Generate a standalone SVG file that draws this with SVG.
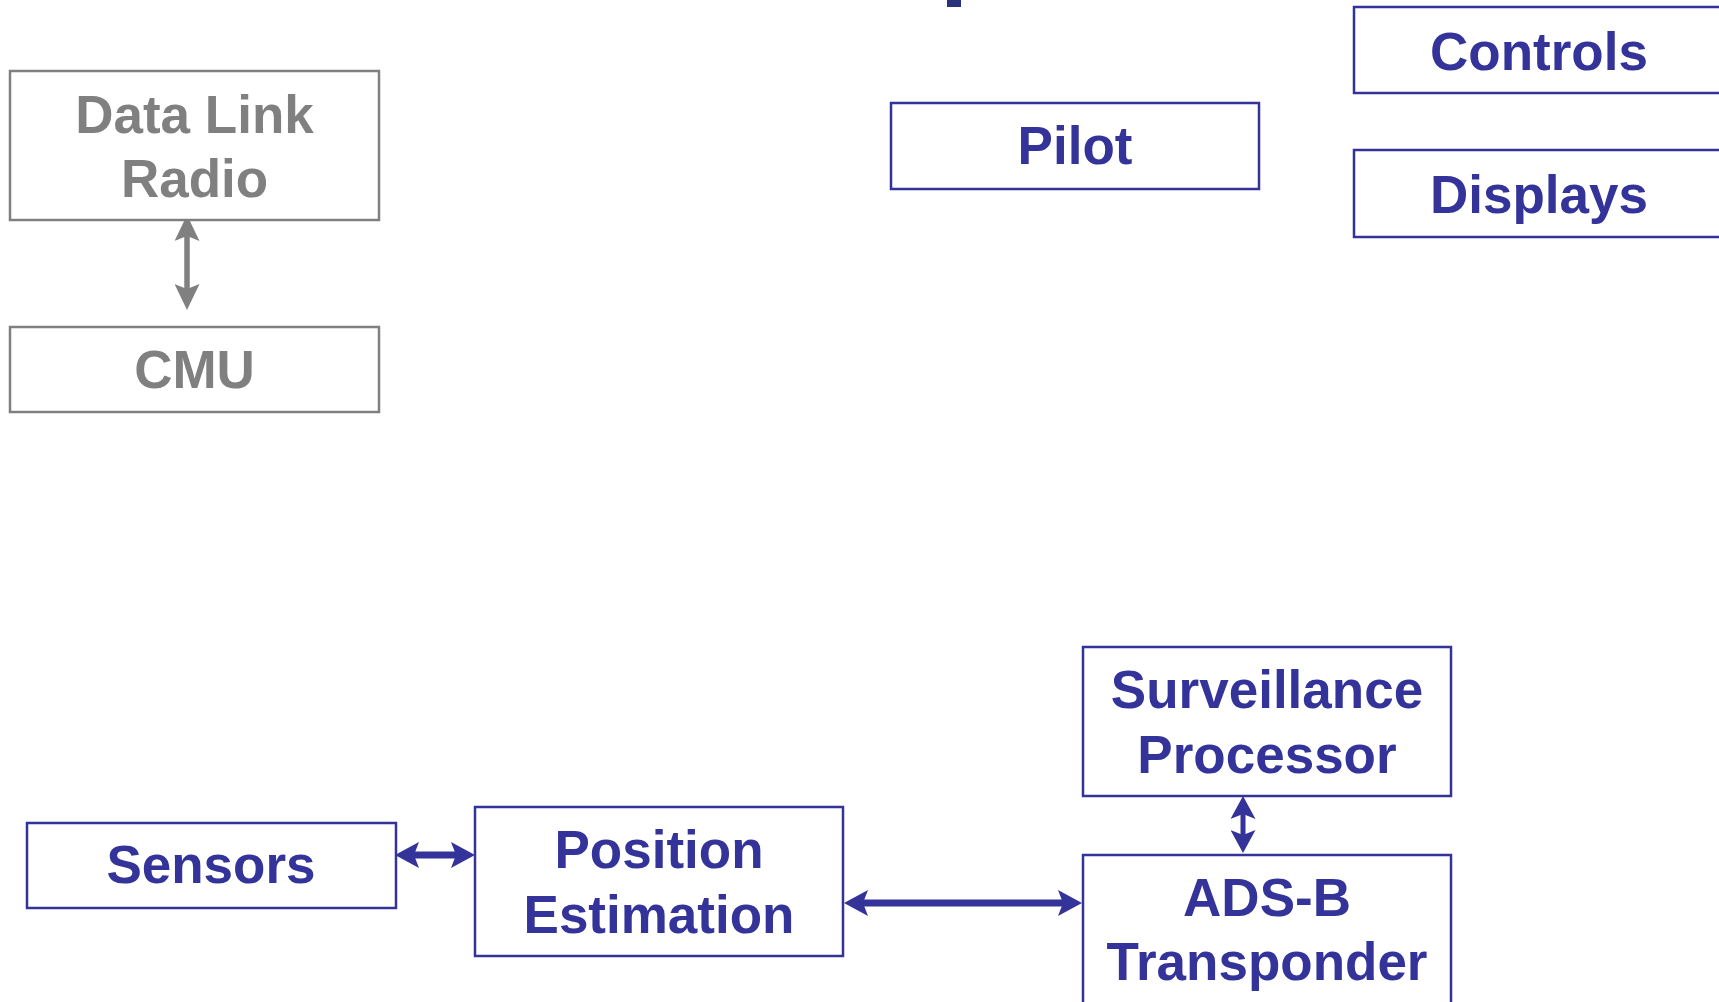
<svg xmlns="http://www.w3.org/2000/svg" width="1719" height="1002" viewBox="0 0 1719 1002">
<style>
  .box { fill: #ffffff; stroke: #333399; stroke-width: 2.5; }
  .gbox { fill: #ffffff; stroke: #808080; stroke-width: 2.5; }
  .t { font-family: "Liberation Sans", Arial, sans-serif; font-weight: bold; font-size: 53px; fill: #333399; text-anchor: middle; }
  .gt { font-family: "Liberation Sans", Arial, sans-serif; font-weight: bold; font-size: 53px; fill: #808080; text-anchor: middle; }
  .conn { stroke: #333399; fill: none; }
  .gconn { stroke: #808080; fill: none; }
</style>
<defs>
  <marker id="ah" markerUnits="userSpaceOnUse" viewBox="0 0 24 26" markerWidth="24" markerHeight="26" refX="14" refY="13" orient="auto-start-reverse">
    <path d="M0,0 L24,13 L0,26 L5,13 Z" fill="#333399"/>
  </marker>
  <marker id="ahs" markerUnits="userSpaceOnUse" viewBox="0 0 23 25" markerWidth="23" markerHeight="25" refX="13" refY="12.5" orient="auto-start-reverse">
    <path d="M0,0 L23,12.5 L0,25 L5,12.5 Z" fill="#333399"/>
  </marker>
  <marker id="ahg" markerUnits="userSpaceOnUse" viewBox="0 0 26 25" markerWidth="26" markerHeight="25" refX="16" refY="12.5" orient="auto-start-reverse">
    <path d="M0,0 L26,12.5 L0,25 L5,12.5 Z" fill="#808080"/>
  </marker>
</defs>
<rect width="1719" height="1002" fill="#ffffff"/>
<rect x="947" y="0" width="14" height="7" fill="#28327a"/>

<g id="connectors">
  <line class="gconn" x1="187" y1="225" x2="187" y2="300" stroke-width="5.5" marker-start="url(#ahg)" marker-end="url(#ahg)"/>
  <line class="conn" x1="405" y1="855" x2="465" y2="855" stroke-width="7" marker-start="url(#ah)" marker-end="url(#ah)"/>
  <line class="conn" x1="854" y1="903" x2="1072" y2="903" stroke-width="7" marker-start="url(#ah)" marker-end="url(#ah)"/>
  <line class="conn" x1="1243" y1="806" x2="1243" y2="843" stroke-width="5" marker-start="url(#ahs)" marker-end="url(#ahs)"/>
</g>

<g id="datalinkradio">
  <rect class="gbox" x="10" y="71" width="369" height="149"/>
  <text class="gt" x="194.5" y="133">Data Link</text>
  <text class="gt" x="194.5" y="197">Radio</text>
</g>
<g id="cmu">
  <rect class="gbox" x="10" y="327" width="369" height="85"/>
  <text class="gt" x="194.5" y="388">CMU</text>
</g>
<g id="pilot">
  <rect class="box" x="891" y="103" width="368" height="86"/>
  <text class="t" x="1075" y="164">Pilot</text>
</g>
<g id="controls">
  <rect class="box" x="1354" y="7" width="380" height="86"/>
  <text class="t" x="1539" y="70">Controls</text>
</g>
<g id="displays">
  <rect class="box" x="1354" y="150" width="380" height="87"/>
  <text class="t" x="1539" y="213">Displays</text>
</g>
<g id="sensors">
  <rect class="box" x="27" y="823" width="369" height="85"/>
  <text class="t" x="211" y="883">Sensors</text>
</g>
<g id="positionestimation">
  <rect class="box" x="475" y="807" width="368" height="149"/>
  <text class="t" x="659" y="868">Position</text>
  <text class="t" x="659" y="933">Estimation</text>
</g>
<g id="surveillanceprocessor">
  <rect class="box" x="1083" y="647" width="368" height="149"/>
  <text class="t" x="1267" y="708">Surveillance</text>
  <text class="t" x="1267" y="773">Processor</text>
</g>
<g id="adsbtransponder">
  <rect class="box" x="1083" y="855" width="368" height="160"/>
  <text class="t" x="1267" y="916">ADS-B</text>
  <text class="t" x="1267" y="980">Transponder</text>
</g>
</svg>
